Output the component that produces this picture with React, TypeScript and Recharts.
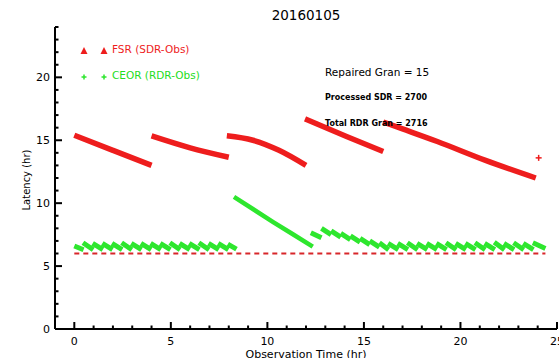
import { ComposedChart, Line, Scatter, XAxis, YAxis } from "recharts";

// ---------------------------------------------------------------------------
// Data (hours)
// ---------------------------------------------------------------------------

const xTicks = [0, 1, 2, 3, 4, 5, 6, 7, 8, 9, 10, 11, 12, 13, 14, 15, 16, 17, 18, 19, 20, 21, 22, 23, 24, 25];
const yTicks = [0, 1, 2, 3, 4, 5, 6, 7, 8, 9, 10, 11, 12, 13, 14, 15, 16, 17, 18, 19, 20, 21, 22, 23, 24];

// FSR (SDR - Obs) latency, one run per granule block
const fsrSeg1 = [
  { x: 0.0, y: 15.4 },
  { x: 2.0, y: 14.2 },
  { x: 4.0, y: 13.0 },
];
const fsrSeg2 = [
  { x: 4.0, y: 15.35 },
  { x: 6.0, y: 14.4 },
  { x: 8.0, y: 13.65 },
];
const fsrSeg3 = [
  { x: 7.9, y: 15.35 },
  { x: 9.25, y: 15.0 },
  { x: 10.6, y: 14.2 },
  { x: 12.0, y: 13.0 },
];
const fsrSeg4 = [
  { x: 11.95, y: 16.7 },
  { x: 14.1, y: 15.3 },
  { x: 16.0, y: 14.1 },
];
const fsrSeg5 = [
  { x: 16.0, y: 16.45 },
  { x: 17.0, y: 15.9 },
  { x: 18.8, y: 14.9 },
  { x: 21.3, y: 13.4 },
  { x: 23.9, y: 12.0 },
];
const fsrLone = [{ x: 24.05, y: 13.6 }];

// CEOR (RDR - Obs) latency: [startX, startY, endX, endY] per granule tooth
const ceorTeethA = [
  [0.0, 6.6, 0.48, 6.3], [0.45, 6.85, 0.98, 6.3], [0.95, 6.8, 1.48, 6.3],
  [1.45, 6.8, 1.98, 6.3], [1.95, 6.8, 2.48, 6.3], [2.45, 6.85, 2.98, 6.3],
  [2.95, 6.8, 3.48, 6.3], [3.45, 6.8, 3.98, 6.3], [3.95, 6.8, 4.48, 6.3],
  [4.45, 6.8, 4.98, 6.3], [4.95, 6.85, 5.48, 6.3], [5.45, 6.8, 5.98, 6.3],
  [5.95, 6.8, 6.48, 6.3], [6.45, 6.85, 6.98, 6.3], [6.95, 6.8, 7.48, 6.3],
  [7.45, 6.8, 7.98, 6.3], [7.95, 6.75, 8.4, 6.35],
];
const ceorDrop = [
  { x: 8.27, y: 10.5 },
  { x: 10.3, y: 8.5 },
  { x: 11.3, y: 7.55 },
  { x: 12.35, y: 6.55 },
];
const ceorTeethB = [
  [12.25, 7.65, 12.8, 7.25], [12.8, 8.0, 13.3, 7.5], [13.3, 7.8, 13.8, 7.3],
  [13.8, 7.6, 14.3, 7.1], [14.3, 7.4, 14.8, 6.9], [14.8, 7.2, 15.3, 6.7],
  [15.3, 7.0, 15.8, 6.5], [15.8, 6.85, 16.28, 6.3],
];
const ceorTeethC = [
  [16.25, 6.8, 16.78, 6.3], [16.75, 6.8, 17.28, 6.3], [17.25, 6.85, 17.78, 6.3],
  [17.75, 6.8, 18.28, 6.3], [18.25, 6.8, 18.78, 6.3], [18.75, 6.8, 19.28, 6.3],
  [19.25, 6.85, 19.78, 6.3], [19.75, 6.8, 20.28, 6.3], [20.25, 6.8, 20.78, 6.3],
  [20.75, 6.85, 21.28, 6.3], [21.25, 6.8, 21.78, 6.3], [21.75, 6.9, 22.28, 6.3],
  [22.25, 6.8, 22.78, 6.3], [22.75, 6.85, 23.28, 6.3], [23.25, 6.8, 23.78, 6.3],
  [23.75, 6.85, 24.4, 6.4],
];

// 6 hour requirement line
const requirement = [
  { x: 0, y: 6.0 },
  { x: 24.4, y: 6.0 },
];

// ---------------------------------------------------------------------------
// Helpers
// ---------------------------------------------------------------------------

const RED = "#ee1d1d";
const GREEN = "#2ee62e";

function teethToPoints(teeth: number[][]) {
  const pts: { x: number; y: number | null }[] = [];
  teeth.forEach(([x0, y0, x1, y1]) => {
    pts.push({ x: x0, y: y0 }, { x: x1, y: y1 }, { x: x1, y: null });
  });
  return pts;
}

const tickFont = { fontFamily: "DejaVu Sans", fontSize: 11, fill: "#000" };

// IDL style inward ticks; labels only on the bottom/left axes
function XTick(props: any) {
  const { x, y, payload, top } = props;
  const major = payload.value % 5 === 0;
  const len = major ? 7 : 3.5;
  return (
    <g>
      <line x1={x} x2={x} y1={y} y2={top ? y + len : y - len} stroke="#000" strokeWidth={2} />
      {!top && major && (
        <text x={x} y={y + 16} textAnchor="middle" {...tickFont}>
          {payload.value}
        </text>
      )}
    </g>
  );
}

function YTick(props: any) {
  const { x, y, payload, right } = props;
  const major = payload.value % 5 === 0;
  const len = major ? 7 : 3.5;
  return (
    <g>
      <line x1={x} x2={right ? x - len : x + len} y1={y} y2={y} stroke="#000" strokeWidth={2} />
      {!right && major && (
        <text x={x - 5} y={y + 4} textAnchor="end" {...tickFont}>
          {payload.value}
        </text>
      )}
    </g>
  );
}

const noDot = false;

export default function App() {
  const axisLine = { stroke: "#000", strokeWidth: 2 };
  return (
    <div style={{ position: "absolute", left: 0, top: 0, width: 559, height: 358, background: "#fff", overflow: "hidden" }}>
      <ComposedChart width={559} height={358} margin={{ top: 27, right: 2, bottom: 0, left: 0 }}>
        <XAxis
          type="number"
          dataKey="x"
          domain={[-1, 25]}
          ticks={xTicks}
          interval={0}
          height={29}
          tickSize={0}
          tickMargin={0}
          tickLine={false}
          axisLine={axisLine}
          tick={<XTick />}
          allowDataOverflow
        />
        <XAxis
          xAxisId="top"
          orientation="top"
          type="number"
          domain={[-1, 25]}
          ticks={xTicks}
          interval={0}
          height={0}
          tickSize={0}
          tickMargin={0}
          tickLine={false}
          axisLine={axisLine}
          tick={<XTick top />}
          allowDataOverflow
        />
        <YAxis
          type="number"
          dataKey="y"
          domain={[0, 24]}
          ticks={yTicks}
          interval={0}
          width={55}
          tickSize={0}
          tickMargin={0}
          tickLine={false}
          axisLine={axisLine}
          tick={<YTick />}
          allowDataOverflow
        />
        <YAxis
          yAxisId="right"
          orientation="right"
          type="number"
          domain={[0, 24]}
          ticks={yTicks}
          interval={0}
          width={0}
          tickSize={0}
          tickMargin={0}
          tickLine={false}
          axisLine={axisLine}
          tick={<YTick right />}
          allowDataOverflow
        />

        {/* requirement */}
        <Line data={requirement} dataKey="y" stroke="#d8262a" strokeWidth={2} strokeDasharray="5 4" dot={noDot} isAnimationActive={false} />

        {/* CEOR (RDR - Obs) */}
        <Line data={teethToPoints(ceorTeethA)} dataKey="y" stroke={GREEN} strokeWidth={5} dot={noDot} isAnimationActive={false} />
        <Line data={ceorDrop} dataKey="y" stroke={GREEN} strokeWidth={4.5} dot={noDot} isAnimationActive={false} />
        <Line data={teethToPoints(ceorTeethB)} dataKey="y" stroke={GREEN} strokeWidth={5} dot={noDot} isAnimationActive={false} />
        <Line data={teethToPoints(ceorTeethC)} dataKey="y" stroke={GREEN} strokeWidth={5} dot={noDot} isAnimationActive={false} />

        {/* FSR (SDR - Obs) */}
        {[fsrSeg1, fsrSeg2, fsrSeg3, fsrSeg4, fsrSeg5].map((seg, i) => (
          <Line key={i} data={seg} dataKey="y" type="monotone" stroke={RED} strokeWidth={5.5} dot={noDot} isAnimationActive={false} />
        ))}
        <Scatter
          data={fsrLone}
          dataKey="y"
          isAnimationActive={false}
          shape={(p: any) => (
            <g stroke={RED} strokeWidth={1.5}>
              <line x1={p.cx - 3} x2={p.cx + 3} y1={p.cy} y2={p.cy} />
              <line x1={p.cx} x2={p.cx} y1={p.cy - 3} y2={p.cy + 3} />
            </g>
          )}
        />
      </ComposedChart>

      {/* title and axis titles */}
      <div style={{ position: "absolute", left: 0, width: 612, top: 7, textAlign: "center", font: "13.5px 'DejaVu Sans'" }}>
        20160105
      </div>
      <div style={{ position: "absolute", left: 206, width: 200, top: 349, textAlign: "center", font: "11px/11px 'DejaVu Sans'" }}>
        Observation Time (hr)
      </div>
      <div
        style={{
          position: "absolute",
          left: 26,
          top: 180,
          transform: "translate(-50%, -50%) rotate(-90deg)",
          whiteSpace: "nowrap",
          font: "10px 'DejaVu Sans'",
        }}
      >
        Latency (hr)
      </div>

      {/* legend */}
      <svg style={{ position: "absolute", left: 0, top: 0 }} width={559} height={358}>
        <polygon points="80.5,54 87.5,54 84,47" fill={RED} />
        <polygon points="100.5,54 107.5,54 104,47" fill={RED} />
        <g stroke={GREEN} strokeWidth={1.5}>
          <line x1={81.5} x2={86.5} y1={77} y2={77} />
          <line x1={84} x2={84} y1={74.5} y2={79.5} />
          <line x1={101.5} x2={106.5} y1={77} y2={77} />
          <line x1={104} x2={104} y1={74.5} y2={79.5} />
        </g>
      </svg>
      <div style={{ position: "absolute", left: 112, top: 43, color: RED, font: "10.5px 'DejaVu Sans'" }}>FSR (SDR-Obs)</div>
      <div style={{ position: "absolute", left: 112, top: 69, color: "#22dd22", font: "10.5px 'DejaVu Sans'" }}>CEOR (RDR-Obs)</div>

      {/* annotations */}
      <div style={{ position: "absolute", left: 325, top: 66, font: "10.5px 'DejaVu Sans'" }}>Repaired Gran = 15</div>
      <div style={{ position: "absolute", left: 325, top: 93, font: "bold 8px 'DejaVu Sans'" }}>Processed SDR = 2700</div>
      <div style={{ position: "absolute", left: 325, top: 119, font: "bold 8px 'DejaVu Sans'" }}>Total RDR Gran = 2716</div>
    </div>
  );
}
